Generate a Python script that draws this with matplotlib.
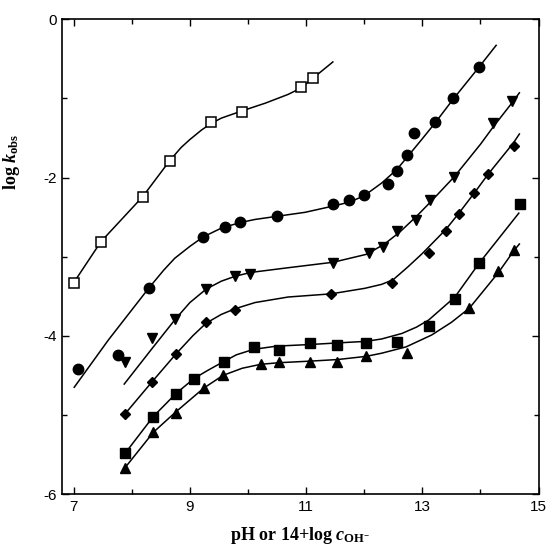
import matplotlib
matplotlib.use("Agg")
import matplotlib.pyplot as plt
from matplotlib.ticker import FixedLocator

plt.rcParams['font.family'] = ['Liberation Sans', 'DejaVu Sans']
plt.rcParams['axes.unicode_minus'] = False
plt.rcParams['mathtext.fontset'] = 'custom'
plt.rcParams['mathtext.rm'] = 'Liberation Serif:bold'
plt.rcParams['mathtext.it'] = 'Liberation Serif:italic:bold'
plt.rcParams['mathtext.bf'] = 'Liberation Serif:bold'

# ---- measured points ----
open_sq_x = [7.0, 7.47, 8.19, 8.65, 9.36, 9.89, 10.91, 11.11]
open_sq_y = [-3.33, -2.81, -2.24, -1.79, -1.30, -1.17, -0.86, -0.74]

circ_x = [7.07, 7.76, 8.29, 9.23, 9.60, 9.86, 10.50, 11.47, 11.73, 11.99, 12.41, 12.56, 12.73, 12.86, 13.22, 13.52, 13.97]
circ_y = [-4.42, -4.24, -3.40, -2.75, -2.62, -2.56, -2.48, -2.33, -2.29, -2.22, -2.08, -1.92, -1.71, -1.44, -1.30, -0.99, -0.60]

itri_x = [7.88, 8.35, 8.75, 9.28, 9.77, 10.04, 11.47, 12.08, 12.32, 12.57, 12.89, 13.14, 13.55, 14.22, 14.55]
itri_y = [-4.33, -4.03, -3.79, -3.41, -3.24, -3.22, -3.08, -2.95, -2.88, -2.68, -2.54, -2.28, -1.99, -1.31, -1.03]

dia_x = [7.88, 8.35, 8.76, 9.28, 9.77, 11.43, 12.48, 13.12, 13.40, 13.63, 13.89, 14.13, 14.57]
dia_y = [-4.99, -4.58, -4.23, -3.83, -3.67, -3.47, -3.33, -2.95, -2.67, -2.46, -2.20, -1.95, -1.60]

fsq_x = [7.89, 8.37, 8.76, 9.07, 9.58, 10.10, 10.53, 11.07, 11.54, 12.03, 12.56, 13.11, 13.56, 13.98, 14.68]
fsq_y = [-5.48, -5.02, -4.73, -4.54, -4.33, -4.14, -4.18, -4.09, -4.12, -4.09, -4.08, -3.88, -3.54, -3.08, -2.34]

tri_x = [7.88, 8.37, 8.76, 9.24, 9.57, 10.22, 10.53, 11.07, 11.54, 12.03, 12.74, 13.81, 14.31, 14.57]
tri_y = [-5.67, -5.22, -4.97, -4.66, -4.49, -4.35, -4.33, -4.33, -4.33, -4.25, -4.22, -3.65, -3.18, -2.91]

# ---- fitted curves ----
open_line_x = [7.0, 7.47, 8.19, 8.65, 8.85, 9.0, 9.2, 9.36, 9.54, 9.89, 10.3, 10.69, 10.91, 11.11, 11.46]
open_line_y = [-3.33, -2.81, -2.24, -1.79, -1.62, -1.52, -1.40, -1.32, -1.25, -1.16, -1.06, -0.95, -0.87, -0.75, -0.54]

circ_line_x = [7.01, 7.6, 8.29, 8.55, 8.74, 9.0, 9.23, 9.54, 9.86, 10.12, 10.5, 10.98, 11.47, 11.75, 12.0, 12.3, 12.56, 12.73, 13.0, 13.22, 13.52, 13.97, 14.27]
circ_line_y = [-4.65, -4.05, -3.40, -3.17, -3.02, -2.87, -2.75, -2.64, -2.57, -2.53, -2.49, -2.44, -2.36, -2.31, -2.23, -2.07, -1.90, -1.75, -1.51, -1.31, -1.02, -0.61, -0.33]

itri_line_x = [7.87, 8.35, 8.75, 9.0, 9.28, 9.54, 9.77, 10.04, 10.69, 11.47, 12.04, 12.35, 12.61, 12.9, 13.14, 13.55, 14.0, 14.22, 14.55, 14.67]
itri_line_y = [-4.61, -4.16, -3.79, -3.58, -3.41, -3.31, -3.25, -3.20, -3.14, -3.07, -2.97, -2.84, -2.69, -2.49, -2.31, -1.99, -1.58, -1.36, -1.05, -0.93]

dia_line_x = [7.88, 8.35, 8.76, 9.05, 9.28, 9.54, 9.77, 10.12, 10.69, 11.43, 12.01, 12.3, 12.5, 12.75, 13.0, 13.12, 13.40, 13.63, 13.89, 14.13, 14.57, 14.67]
dia_line_y = [-4.99, -4.58, -4.23, -4.00, -3.84, -3.73, -3.66, -3.58, -3.51, -3.47, -3.40, -3.35, -3.29, -3.13, -2.96, -2.87, -2.66, -2.45, -2.20, -1.96, -1.56, -1.45]

fsq_line_x = [7.89, 8.37, 8.76, 9.07, 9.3, 9.57, 9.8, 10.1, 10.5, 11.07, 11.54, 12.03, 12.30, 12.65, 12.9, 13.11, 13.56, 13.98, 14.66]
fsq_line_y = [-5.48, -5.02, -4.73, -4.54, -4.44, -4.33, -4.24, -4.17, -4.13, -4.11, -4.09, -4.07, -4.04, -3.97, -3.89, -3.80, -3.51, -3.08, -2.45]

tri_line_x = [7.88, 8.37, 8.76, 9.24, 9.57, 9.9, 10.22, 10.53, 11.07, 11.54, 12.03, 12.30, 12.72, 13.16, 13.5, 13.81, 14.31, 14.57, 14.67]
tri_line_y = [-5.67, -5.22, -4.96, -4.66, -4.50, -4.41, -4.36, -4.34, -4.32, -4.30, -4.26, -4.22, -4.14, -3.99, -3.83, -3.65, -3.20, -2.93, -2.84]

x_major = [7, 9, 11, 13, 15]
x_minor = [8, 10, 12, 14]
y_major = [0, -2, -4, -6]
y_minor = [-1, -3, -5]

fig = plt.figure(figsize=(5.49, 5.49), dpi=100)
ax = fig.add_axes([0.113, 0.100, 0.868, 0.865])

lw = 1.1
for lx, ly in [(open_line_x, open_line_y), (circ_line_x, circ_line_y), (itri_line_x, itri_line_y),
               (dia_line_x, dia_line_y), (fsq_line_x, fsq_line_y), (tri_line_x, tri_line_y)]:
    ax.plot(lx, ly, color='black', lw=lw, zorder=2)

ax.plot(open_sq_x, open_sq_y, ls='none', marker='s', ms=7.5, mfc='white', mec='black', mew=1.1, zorder=3)
ax.plot(circ_x, circ_y, ls='none', marker='o', ms=7.5, color='black', zorder=3)
ax.plot(itri_x, itri_y, ls='none', marker='v', ms=7.5, color='black', zorder=3)
ax.plot(dia_x, dia_y, ls='none', marker='D', ms=5, color='black', zorder=3)
ax.plot(fsq_x, fsq_y, ls='none', marker='s', ms=7, color='black', zorder=3)
ax.plot(tri_x, tri_y, ls='none', marker='^', ms=7.5, color='black', zorder=3)

ax.set_xlim(6.8, 15.0)
ax.set_ylim(-6, 0)
ax.xaxis.set_major_locator(FixedLocator(x_major))
ax.xaxis.set_minor_locator(FixedLocator(x_minor))
ax.yaxis.set_major_locator(FixedLocator(y_major))
ax.yaxis.set_minor_locator(FixedLocator(y_minor))
ax.set_xticklabels([str(v) for v in x_major])
ax.set_yticklabels([str(v) for v in y_major])
ax.tick_params(which='both', direction='in', top=True, right=True, width=1.0)
ax.tick_params(which='major', length=5, labelsize=11, pad=4)
ax.tick_params(which='minor', length=3.5)
for s in ax.spines.values():
    s.set_linewidth(1.2)

ax.set_xlabel(r'pH or 14+log $c_{\mathrm{OH^{-}}}$', fontsize=13, fontweight='bold',
              family='Liberation Serif')
ax.xaxis.set_label_coords(0.5, -0.066)
ax.set_ylabel(r'log $k_{\mathrm{obs}}$', fontsize=13, fontweight='bold',
              family='Liberation Serif', labelpad=4)
ax.yaxis.set_label_coords(-0.085, 0.70)

fig.savefig('out.png', dpi=100)
